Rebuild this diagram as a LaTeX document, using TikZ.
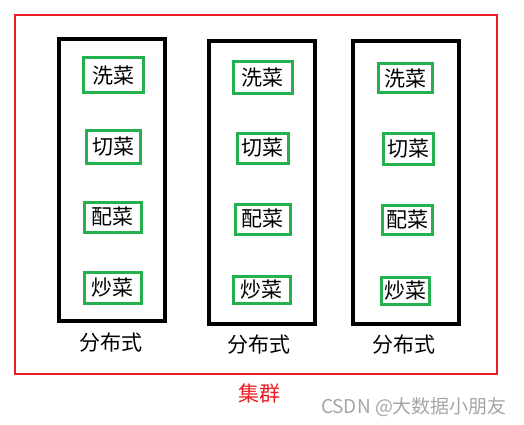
\documentclass[tikz,border=0pt]{standalone}
\usepackage{fontspec}
\setmainfont{Noto Sans CJK SC}
\newfontfamily\wmfont{Noto Sans CJK SC}
\definecolor{redc}{RGB}{237,28,36}
\definecolor{greenc}{RGB}{34,177,76}
\definecolor{wmgray}{RGB}{165,165,165}
\begin{document}
\begin{tikzpicture}[x=1pt,y=-1pt,
  cluster/.style={draw=redc,line width=2.3pt},
  dist/.style={draw=black,line width=3.3pt},
  gbox/.style={draw=greenc,line width=3pt,inner sep=0pt,font=\fontsize{21}{23}\selectfont},
  lbl/.style={font=\fontsize{21}{23}\selectfont,inner sep=0pt}]
\useasboundingbox (0,0) rectangle (524,425);
% cluster
\draw[cluster] (15,15) rectangle (497,374);
\node[lbl,text=redc] (jq) at (259,393) {集群};
% distributed boxes
\draw[dist] (59,39) rectangle (165,321);
\draw[dist] (209,41) rectangle (315,324);
\draw[dist] (353,41) rectangle (459,324);
\node[lbl] (f1) at (111,343) {分布式};
\node[lbl] (f2) at (259,345) {分布式};
\node[lbl] (f3) at (404,345) {分布式};
% column 1
\node[gbox,minimum width=60,minimum height=35] (a1) at (113,75.5) {洗菜};
\node[gbox,minimum width=54,minimum height=33] (b1) at (113,146.5) {切菜};
\node[gbox,minimum width=57,minimum height=30] (c1) at (112.5,217) {配菜};
\node[gbox,minimum width=57,minimum height=31] (d1) at (112.5,287.5) {炒菜};
% column 2
\node[gbox,minimum width=59,minimum height=32] (a2) at (262.5,78) {洗菜};
\node[gbox,minimum width=51,minimum height=30] (b2) at (262.5,148) {切菜};
\node[gbox,minimum width=55,minimum height=30] (c2) at (262.5,219) {配菜};
\node[gbox,minimum width=57,minimum height=27] (d2) at (261.5,289.5) {炒菜};
% column 3
\node[gbox,minimum width=54,minimum height=29] (a3) at (405,78.5) {洗菜};
\node[gbox,minimum width=50,minimum height=31] (b3) at (408,148.5) {切菜};
\node[gbox,minimum width=50,minimum height=29] (c3) at (407,219.5) {配菜};
\node[gbox,minimum width=48,minimum height=27] (d3) at (405,290.5) {炒菜};
% watermark
\node[font=\wmfont\fontsize{19}{21}\selectfont,text=wmgray,inner sep=0pt] (wm) at (414,407) {CSDN @大数据小朋友};
\end{tikzpicture}
\end{document}
